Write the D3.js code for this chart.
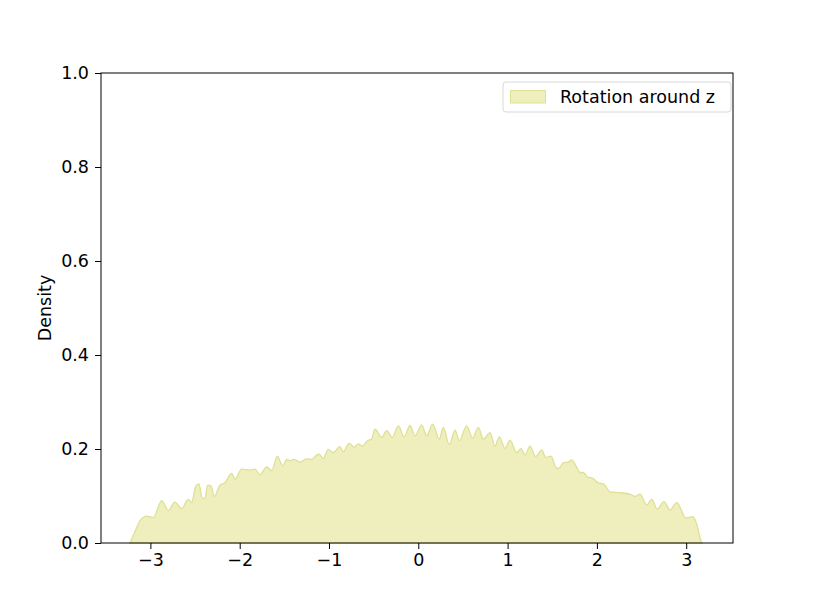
<!DOCTYPE html>
<html>
<head>
<meta charset="utf-8">
<script src="https://cdn.jsdelivr.net/npm/d3@7"></script>
<style>
  body { margin: 0; background: #fff; }
  text { font-family: "DejaVu Sans", sans-serif; }
</style>
</head>
<body>
<svg id="chart" width="814" height="610"></svg>
<script>
// angle values (rad) and the density
const angles = [
  -3.228, -3.173, -3.117, -3.041, -2.968, -2.873, -2.800, -2.725, -2.650, -2.576,
  -2.538, -2.493, -2.456, -2.419, -2.389, -2.358, -2.321, -2.284, -2.221, -2.165,
  -2.090, -2.053, -1.978, -1.885, -1.829, -1.773, -1.698, -1.642, -1.579, -1.518,
  -1.474, -1.437, -1.392, -1.317, -1.258, -1.194, -1.138, -1.112, -1.064, -1.008,
  -0.952, -0.877, -0.840, -0.776, -0.717, -0.672, -0.627, -0.567, -0.522, -0.485,
  -0.410, -0.354, -0.291, -0.224, -0.157, -0.093, -0.037, 0.038, 0.094, 0.161,
  0.235, 0.280, 0.347, 0.411, 0.459, 0.542, 0.609, 0.672, 0.728, 0.803,
  0.859, 0.907, 0.971, 1.027, 1.102, 1.150, 1.195, 1.251, 1.315, 1.382,
  1.427, 1.486, 1.550, 1.576, 1.624, 1.680, 1.718, 1.755, 1.811, 1.848,
  1.897, 1.949, 2.016, 2.072, 2.147, 2.259, 2.371, 2.427, 2.483, 2.558,
  2.614, 2.676, 2.751, 2.819, 2.894, 2.998, 3.073, 3.118, 3.162, 3.177
];
const density = [
  0.000, 0.024, 0.047, 0.057, 0.054, 0.090, 0.069, 0.087, 0.073, 0.093,
  0.086, 0.120, 0.126, 0.095, 0.095, 0.123, 0.121, 0.099, 0.123, 0.128,
  0.148, 0.136, 0.157, 0.155, 0.157, 0.145, 0.162, 0.154, 0.184, 0.164,
  0.178, 0.175, 0.178, 0.172, 0.179, 0.178, 0.187, 0.189, 0.180, 0.199,
  0.192, 0.205, 0.194, 0.212, 0.204, 0.211, 0.206, 0.218, 0.221, 0.242,
  0.225, 0.239, 0.225, 0.249, 0.226, 0.250, 0.228, 0.251, 0.228, 0.253,
  0.221, 0.246, 0.209, 0.240, 0.218, 0.249, 0.223, 0.246, 0.221, 0.235,
  0.206, 0.226, 0.201, 0.219, 0.192, 0.201, 0.187, 0.206, 0.184, 0.198,
  0.182, 0.185, 0.159, 0.159, 0.171, 0.172, 0.177, 0.168, 0.150, 0.150,
  0.140, 0.138, 0.128, 0.126, 0.109, 0.107, 0.104, 0.099, 0.104, 0.081,
  0.093, 0.072, 0.088, 0.070, 0.086, 0.053, 0.056, 0.040, 0.006, 0.000
];
const xTicks = [-3, -2, -1, 0, 1, 2, 3];
const yTicks = [0, 0.2, 0.4, 0.6, 0.8, 1.0];
const seriesName = "Rotation around z";

const margin = { top: 73, right: 81, bottom: 67, left: 101 };
const width = 814 - margin.left - margin.right;
const height = 610 - margin.top - margin.bottom;
const fillColor = "#efefbe";
const edgeColor = "#dfdf95";

const svg = d3.select("#chart");
const g = svg.append("g").attr("transform", `translate(${margin.left},${margin.top})`);

const x = d3.scaleLinear().domain([-3.553, 3.524]).range([0, width]);
const y = d3.scaleLinear().domain([0, 1]).range([height, 0]);

const pts = angles.map((a, i) => [a, density[i]]);

const area = d3.area()
  .x(d => x(d[0]))
  .y0(y(0))
  .y1(d => y(d[1]))
  .curve(d3.curveMonotoneX);

g.append("path")
  .datum(pts)
  .attr("d", area)
  .attr("fill", fillColor)
  .attr("stroke", edgeColor)
  .attr("stroke-width", 1.3);

const fontSize = 17.5;

const xAxis = g.append("g")
  .attr("transform", `translate(0,${height})`)
  .call(d3.axisBottom(x).tickValues(xTicks).tickSize(6).tickPadding(5).tickSizeOuter(0).tickFormat(d3.format("d")));
const yAxis = g.append("g")
  .call(d3.axisLeft(y).tickValues(yTicks).tickSize(6).tickPadding(6).tickSizeOuter(0).tickFormat(d3.format(".1f")));

[xAxis, yAxis].forEach(ax => {
  ax.select(".domain").remove();
  ax.selectAll("line").attr("stroke", "#000").attr("stroke-width", 1);
  ax.selectAll("text").attr("fill", "#000").style("font-size", fontSize + "px").style("font-family", "DejaVu Sans");
});

// frame
g.append("rect")
  .attr("width", width)
  .attr("height", height)
  .attr("fill", "none")
  .attr("stroke", "#000")
  .attr("stroke-width", 1);

g.append("text")
  .attr("transform", `translate(${45 - margin.left},${height / 2}) rotate(-90)`)
  .attr("text-anchor", "middle")
  .attr("dy", "0.35em")
  .style("font-size", fontSize + "px")
  .text("Density");

// legend
const lg = svg.append("g").attr("transform", "translate(503,82)");
lg.append("rect")
  .attr("width", 228)
  .attr("height", 30)
  .attr("rx", 3)
  .attr("fill", "#fff")
  .attr("fill-opacity", 0.8)
  .attr("stroke", "#d8d8d8")
  .attr("stroke-width", 1);
lg.append("rect")
  .attr("x", 7.5)
  .attr("y", 8.5)
  .attr("width", 35)
  .attr("height", 12.5)
  .attr("fill", fillColor)
  .attr("stroke", edgeColor);
lg.append("text")
  .attr("x", 57)
  .attr("y", 20.5)
  .style("font-size", fontSize + "px")
  .text(seriesName);
</script>
</body>
</html>
